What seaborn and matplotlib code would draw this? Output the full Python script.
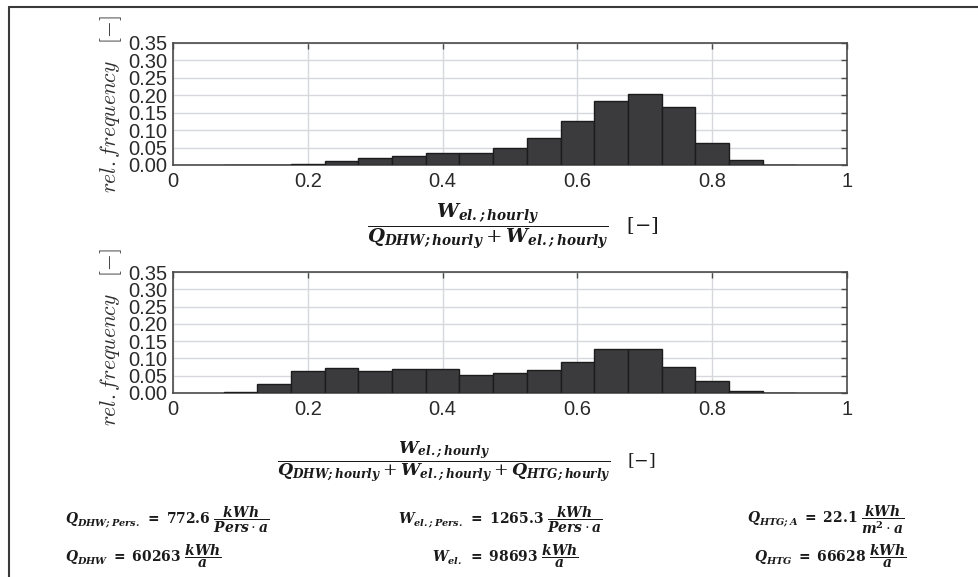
import numpy as np
import matplotlib
matplotlib.use("Agg")
import matplotlib.pyplot as plt
import seaborn as sns
from matplotlib.lines import Line2D

# ---- data ----
bin_centers = [0.10, 0.15, 0.20, 0.25, 0.30, 0.35, 0.40, 0.45, 0.50,
               0.55, 0.60, 0.65, 0.70, 0.75, 0.80, 0.85, 0.90]
freq_dhw = [0.0, 0.0005, 0.003, 0.0105, 0.021, 0.026, 0.035, 0.035, 0.048,
            0.078, 0.126, 0.184, 0.2045, 0.167, 0.064, 0.0135, 0.001]
freq_all = [0.002, 0.027, 0.064, 0.071, 0.065, 0.069, 0.070, 0.051, 0.057,
            0.067, 0.091, 0.127, 0.128, 0.076, 0.034, 0.0067, 0.0005]
bin_width = 0.05
x_ticks = [0, 0.2, 0.4, 0.6, 0.8, 1]
x_ticklabels = ["0", "0.2", "0.4", "0.6", "0.8", "1"]
y_ticks = [0.00, 0.05, 0.10, 0.15, 0.20, 0.25, 0.30, 0.35]
y_ticklabels = ["0.00", "0.05", "0.10", "0.15", "0.20", "0.25", "0.30", "0.35"]

ylabel = r"$rel.frequency\ \ \ [-]$"
xlabel_top = (r"$\dfrac{\mathbfit{W}_{\mathbfit{el.;hourly}}}"
              r"{\mathbfit{Q}_{\mathbfit{DHW;hourly}}+\mathbfit{W}_{\mathbfit{el.;hourly}}}\ \ \ [-]$")
xlabel_bot = (r"$\dfrac{\mathbfit{W}_{\mathbfit{el.;hourly}}}"
              r"{\mathbfit{Q}_{\mathbfit{DHW;hourly}}+\mathbfit{W}_{\mathbfit{el.;hourly}}"
              r"+\mathbfit{Q}_{\mathbfit{HTG;hourly}}}\ \ \ [-]$")

notes = [
    (r"$\mathbfit{Q}_{\mathbfit{DHW;Pers.}}\ \mathbf{=}\ \mathbf{772.6}\ \dfrac{\mathbfit{kWh}}{\mathbfit{Pers}\cdot\mathbfit{a}}$", 65, 520, "left"),
    (r"$\mathbfit{W}_{\mathbfit{el.;Pers.}}\ \mathbf{=}\ \mathbf{1265.3}\ \dfrac{\mathbfit{kWh}}{\mathbfit{Pers}\cdot\mathbfit{a}}$", 500, 520, "center"),
    (r"$\mathbfit{Q}_{\mathbfit{HTG;A}}\ \mathbf{=}\ \mathbf{22.1}\ \dfrac{\mathbfit{kWh}}{\mathbfit{m}^{\mathbf{2}}\cdot\mathbfit{a}}$", 904, 520, "right"),
    (r"$\mathbfit{Q}_{\mathbfit{DHW}}\ \mathbf{=}\ \mathbf{60263}\ \dfrac{\mathbfit{kWh}}{\mathbfit{a}}$", 65, 556, "left"),
    (r"$\mathbfit{W}_{\mathbfit{el.}}\ \mathbf{=}\ \mathbf{98693}\ \dfrac{\mathbfit{kWh}}{\mathbfit{a}}$", 505, 556, "center"),
    (r"$\mathbfit{Q}_{\mathbfit{HTG}}\ \mathbf{=}\ \mathbf{66628}\ \dfrac{\mathbfit{kWh}}{\mathbfit{a}}$", 906, 556, "right"),
]

# ---- style ----
sns.set_style("white")
plt.rcParams["font.family"] = ["Liberation Sans", "DejaVu Sans"]
plt.rcParams["mathtext.fontset"] = "dejavuserif"

W, H = 979, 577
fig = plt.figure(figsize=(W / 100, H / 100), dpi=100)
fig.patch.set_facecolor("white")

bar_color = "#3b3b3d"
edge_color = "#1c1c1c"
spine_color = "#4a4a4a"
grid_color = "#d6d8dc"
text_color = "#2a2a2a"

edges = [c - bin_width / 2 for c in bin_centers] + [bin_centers[-1] + bin_width / 2]

def px_axes(left, top, right, bottom):
    return fig.add_axes([left / W, 1 - bottom / H, (right - left) / W, (bottom - top) / H])

ax1 = px_axes(173, 43, 847, 165)
ax2 = px_axes(173, 272, 847, 393)

for ax, freq, xlab, xfs, lab_x, lab_y, yl_center in [
        (ax1, freq_dhw, xlabel_top, 14, 0.504, -0.30, 104),
        (ax2, freq_all, xlabel_bot, 12.5, 0.436, -0.38, 337)]:
    sns.histplot(x=bin_centers, weights=freq, bins=edges, ax=ax,
                 color=bar_color, edgecolor=edge_color, linewidth=1.0,
                 alpha=1.0, stat="count", zorder=3)
    ax.set_xlim(0, 1)
    ax.set_ylim(0, 0.35)
    ax.set_xticks(x_ticks)
    ax.set_xticklabels(x_ticklabels)
    ax.set_yticks(y_ticks)
    ax.set_yticklabels(y_ticklabels)
    ax.set_ylabel("")
    ax.grid(True, color=grid_color, linewidth=1.0, zorder=0)
    ax.set_axisbelow(True)
    for s in ax.spines.values():
        s.set_visible(True)
        s.set_color(spine_color)
        s.set_linewidth(1.2)
    ax.tick_params(axis="both", direction="in", length=4, width=1.0,
                   color=spine_color, labelcolor=text_color, labelsize=14.5,
                   top=True, right=True)
    ax.tick_params(axis="x", pad=5)
    ax.tick_params(axis="y", pad=4)
    ax.set_xlabel(xlab, fontsize=xfs, color="#1a1a1a")
    ax.xaxis.set_label_coords(lab_x, lab_y)
    fig.text(111 / W, 1 - yl_center / H, ylabel, rotation=90, ha="center",
             va="center", fontsize=15.5, color="#2e2e2e", math_fontfamily="cm")

for txt, xp, yp, ha in notes:
    fig.text(xp / W, 1 - yp / H, txt, ha=ha, va="center", fontsize=10,
             color="#1a1a1a")

# outer frame (top and left edges)
fig.add_artist(Line2D([9 / W, 1], [1 - 7 / H, 1 - 7 / H], transform=fig.transFigure,
                      color="#3a3a3a", linewidth=1.5))
fig.add_artist(Line2D([9 / W, 9 / W], [0, 1 - 7 / H], transform=fig.transFigure,
                      color="#3a3a3a", linewidth=1.5))

fig.savefig("out.png", dpi=100, facecolor="white")
